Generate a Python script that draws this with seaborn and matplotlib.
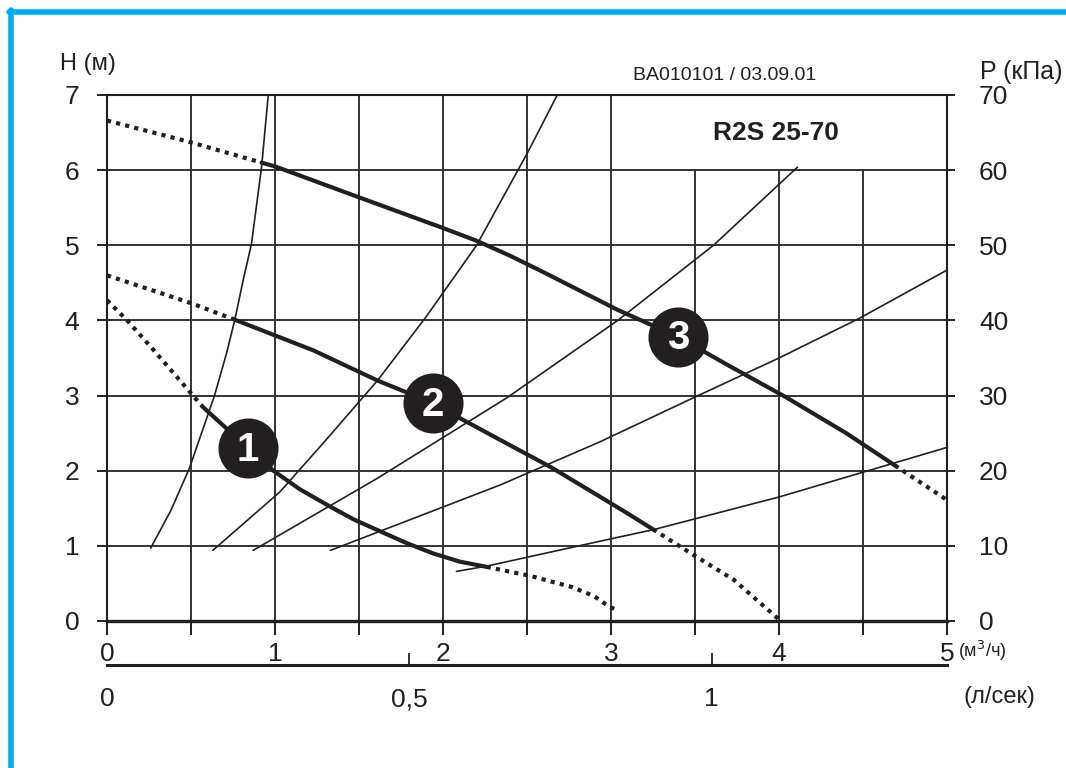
import numpy as np
import seaborn as sns
import matplotlib.pyplot as plt

# pump curves R2S 25-70 (Q in m3/h, H in m)
c3_dot1_q = [0, 0.5, 0.92]
c3_dot1_h = [6.66, 6.37, 6.1]
c3_q = [0.92, 1.0, 1.51, 2.0, 2.2, 2.4, 2.6, 3.04, 3.4, 3.7, 4.04, 4.4, 4.69]
c3_h = [6.1, 6.05, 5.63, 5.23, 5.06, 4.86, 4.64, 4.14, 3.78, 3.4, 2.98, 2.5, 2.07]
c3_dot2_q = [4.69, 5.0]
c3_dot2_h = [2.07, 1.61]

c2_dot1_q = [0, 0.5, 0.76]
c2_dot1_h = [4.6, 4.23, 4.01]
c2_q = [0.76, 1.23, 1.61, 1.94, 2.1, 2.34, 2.64, 2.93, 3.1, 3.25]
c2_h = [4.01, 3.6, 3.2, 2.9, 2.7, 2.41, 2.05, 1.66, 1.43, 1.22]
c2_dot2_q = [3.25, 3.49, 3.73, 4.0]
c2_dot2_h = [1.22, 0.88, 0.55, 0.02]

c1_dot1_q = [0, 0.12, 0.26, 0.45, 0.57]
c1_dot1_h = [4.27, 4.0, 3.65, 3.16, 2.85]
c1_q = [0.57, 0.84, 0.99, 1.15, 1.33, 1.47, 1.61, 1.78, 1.94, 2.1, 2.26]
c1_h = [2.85, 2.3, 2.0, 1.75, 1.52, 1.35, 1.21, 1.04, 0.9, 0.79, 0.72]
c1_dot2_q = [2.26, 2.52, 2.77, 2.9, 2.99, 3.04]
c1_dot2_h = [0.72, 0.6, 0.45, 0.33, 0.19, 0.14]

# system curves (thin lines)
sysA_q = [0.26, 0.38, 0.49, 0.64, 0.71, 0.76, 0.81, 0.86, 0.92, 0.96]
sysA_h = [0.97, 1.47, 2.03, 3.0, 3.55, 4.0, 4.53, 5.02, 6.04, 7.0]
sysB_q = [0.63, 1.03, 1.3, 1.61, 1.9, 2.2, 2.51, 2.68]
sysB_h = [0.94, 1.72, 2.4, 3.2, 4.05, 5.0, 6.26, 7.0]
sysC_q = [0.87, 1.61, 2.38, 3.04, 3.61, 4.11]
sysC_h = [0.94, 1.9, 2.97, 4.0, 5.0, 6.04]
sysD_q = [1.33, 2.34, 2.93, 3.49, 4.0, 4.48, 5.0]
sysD_h = [0.94, 1.81, 2.38, 2.97, 3.5, 4.03, 4.67]
sysE_q = [2.08, 2.26, 2.89, 3.26, 4.0, 5.0]
sysE_h = [0.66, 0.73, 1.04, 1.22, 1.65, 2.31]

# speed markers
mark_q = [0.84, 1.94, 3.4]
mark_h = [2.3, 2.9, 3.78]
mark_lbl = ['1', '2', '3']

q_ticks = [0, 0.5, 1, 1.5, 2, 2.5, 3, 3.5, 4, 4.5, 5]
q_labels = ['0', '', '1', '', '2', '', '3', '', '4', '', '5']
h_ticks = [0, 1, 2, 3, 4, 5, 6, 7]
p_ticks = [0, 10, 20, 30, 40, 50, 60, 70]
ls_ticks = [0, 0.5, 1]
ls_labels = ['0', '0,5', '1']

sns.set_style('ticks')
plt.rcParams['font.family'] = ['Liberation Sans', 'DejaVu Sans']

ink = '#231f20'
blue = '#00aeef'

fig = plt.figure(figsize=(10.66, 7.68), dpi=100)
ax = fig.add_axes([107 / 1066, 1 - 621 / 768, 840 / 1066, 526 / 768])
ax.set_xlim(0, 5)
ax.set_ylim(0, 7)

# grid, cleared in the title box (Q 3..5, H 6..7)
for q in q_ticks[1:-1]:
    top = 6 if q > 3 else 7
    ax.vlines(q, 0, top, color='#333333', lw=1.4, zorder=1)
for h in h_ticks[1:-1]:
    ax.hlines(h, 0, 5, color='#333333', lw=1.4, zorder=1)

dot = (0, (1, 1.25))
pump = [
    (c3_dot1_q, c3_dot1_h, dot), (c3_q, c3_h, '-'), (c3_dot2_q, c3_dot2_h, dot),
    (c2_dot1_q, c2_dot1_h, dot), (c2_q, c2_h, '-'), (c2_dot2_q, c2_dot2_h, dot),
    (c1_dot1_q, c1_dot1_h, dot), (c1_q, c1_h, '-'), (c1_dot2_q, c1_dot2_h, dot),
]
for qs, hs, ls in pump:
    sns.lineplot(x=qs, y=hs, ax=ax, color=ink, lw=3, linestyle=ls,
                 sort=False, estimator=None, zorder=3)

for qs, hs in [(sysA_q, sysA_h), (sysB_q, sysB_h), (sysC_q, sysC_h),
               (sysD_q, sysD_h), (sysE_q, sysE_h)]:
    sns.lineplot(x=qs, y=hs, ax=ax, color=ink, lw=1.2,
                 sort=False, estimator=None, zorder=2)

ax.scatter(mark_q, mark_h, s=1870, color=ink, zorder=5, linewidths=0)
for q, h, t in zip(mark_q, mark_h, mark_lbl):
    ax.text(q, h - 0.02, t, color='white', fontsize=29, fontweight='bold',
            ha='center', va='center', zorder=6)

ax.text(3.98, 6.49, 'R2S 25-70', fontsize=19, fontweight='bold', color=ink,
        ha='center', va='center')

for s in ['left', 'right', 'top']:
    ax.spines[s].set_linewidth(1.5)
    ax.spines[s].set_color(ink)
ax.spines['bottom'].set_linewidth(2.4)
ax.spines['bottom'].set_color(ink)

ax.set_xticks(q_ticks)
ax.set_xticklabels(q_labels)
ax.set_yticks(h_ticks)
ax.tick_params(axis='x', direction='out', length=10, width=1.4, pad=5,
               labelsize=19, colors=ink)
ax.tick_params(axis='y', direction='out', length=7, width=1.4, pad=13,
               labelsize=19, colors=ink)

axp = ax.twinx()
axp.set_ylim(0, 70)
axp.set_yticks(p_ticks)
axp.tick_params(axis='y', direction='out', length=6, width=1.4, pad=17,
                labelsize=19, colors=ink)
for s in axp.spines.values():
    s.set_visible(False)

# flow in l/s along a second scale below
axl = fig.add_axes([107 / 1066, 1 - 665 / 768, 840 / 1066, 0.0001])
axl.set_xlim(0, 5 / 3.6)
axl.set_xticks(ls_ticks)
axl.set_xticklabels(ls_labels)
axl.set_yticks([])
for s in ['left', 'right', 'top']:
    axl.spines[s].set_visible(False)
axl.spines['bottom'].set_linewidth(2.2)
axl.spines['bottom'].set_color(ink)
axl.tick_params(axis='x', direction='in', length=9, width=1.3, pad=16,
                labelsize=19, colors=ink)
axl.xaxis.get_major_ticks()[0].tick1line.set_visible(False)
axl.patch.set_visible(False)

fig.text(88 / 1066, 1 - 64 / 768, 'H (м)', fontsize=17, color=ink,
         ha='center', va='center')
fig.text(1063 / 1066, 1 - 72 / 768, 'P (кПа)', fontsize=18, color=ink,
         ha='right', va='center')
fig.text(725 / 1066, 1 - 75 / 768, 'BA010101 / 03.09.01', fontsize=14,
         color=ink, ha='center', va='center')
fig.text(958 / 1066, 1 - 651 / 768, '(м$^3$/ч)', fontsize=13, color=ink,
         ha='left', va='center')
fig.text(1035 / 1066, 1 - 697 / 768, '(л/сек)', fontsize=17, color=ink,
         ha='right', va='center')

# blue frame at left and top
fig.add_artist(plt.Line2D([10.5 / 1066, 10.5 / 1066], [0, 1 - 10 / 768],
                          color=blue, lw=4, transform=fig.transFigure))
fig.add_artist(plt.Line2D([8.5 / 1066, 1], [1 - 12 / 768, 1 - 12 / 768],
                          color=blue, lw=4, transform=fig.transFigure))

fig.savefig('out.png', dpi=100)
